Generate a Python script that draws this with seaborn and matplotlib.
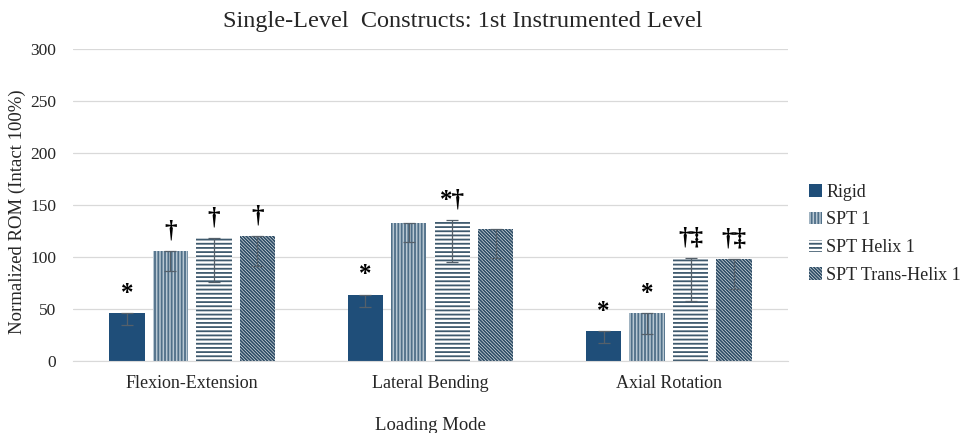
import numpy as np
import pandas as pd
import seaborn as sns
import matplotlib.pyplot as plt
from matplotlib.patches import Patch

# Chart data
modes = ["Flexion-Extension", "Lateral Bending", "Axial Rotation"]
constructs = ["Rigid", "SPT 1", "SPT Helix 1", "SPT Trans-Helix 1"]
rigid = [46, 64, 29]
spt1 = [106, 133, 46]
helix = [118, 136, 99]
trans_helix = [120, 127, 98]
# one-sided (minus) error bars
rigid_err = [11, 12, 12]
spt1_err = [19, 19, 20]
helix_err = [42, 41, 41]
trans_helix_err = [29, 28, 29]
# significance markers
rigid_sig = ["*", "*", "*"]
spt1_sig = ["†", "", "*"]
helix_sig = ["†", "*†", "†‡"]
trans_helix_sig = ["†", "", "†‡"]

values = [rigid, spt1, helix, trans_helix]
errors = [rigid_err, spt1_err, helix_err, trans_helix_err]
sigs = [rigid_sig, spt1_sig, helix_sig, trans_helix_sig]

df = pd.DataFrame({
    "mode": np.tile(modes, len(constructs)),
    "construct": np.repeat(constructs, len(modes)),
    "rom": np.concatenate(values),
})

sns.set_style("white")
plt.rcParams["font.family"] = ["Liberation Serif", "DejaVu Serif"]
plt.rcParams["hatch.linewidth"] = 1.3

fig = plt.figure(figsize=(9.61, 4.33), dpi=100)
ax = fig.add_axes([0.076, 0.166, 0.744, 0.721])

faces = ["#1f4e79", "#b9c8d3", "white", "white"]
edges = ["#1f4e79", "#4f6f88", "#3f5a6e", "#2e4d66"]
hatches = [None, "|||||", "----", "\\\\\\\\\\\\\\\\\\\\"]

sns.barplot(data=df, x="mode", y="rom", hue="construct", order=modes,
            hue_order=constructs, width=0.73, gap=0.19, errorbar=None,
            legend=False, ax=ax)

bars = ax.patches
for i, name in enumerate(constructs):
    for j in range(len(modes)):
        b = bars[i * len(modes) + j]
        b.set_facecolor(faces[i])
        b.set_edgecolor(edges[i])
        b.set_linewidth(0)
        if hatches[i]:
            b.set_hatch(hatches[i])
        cx = b.get_x() + b.get_width() / 2
        h = b.get_height()
        ax.errorbar(cx, h, yerr=[[errors[i][j]], [0]], fmt="none",
                    ecolor="#55606a", elinewidth=0.9, capsize=4, capthick=0.9)
        if sigs[i][j]:
            ax.annotate(sigs[i][j], (cx, h), xytext=(0, 6),
                        textcoords="offset points", ha="center", va="bottom",
                        fontsize=18, fontweight="bold", color="black")

ax.set_ylim(0, 300)
ax.set_xlim(-0.5, 2.5)
ax.set_yticks(range(0, 301, 50))
ax.grid(axis="y", color="#d9d9d9", linewidth=0.9)
ax.set_axisbelow(True)
for s in ["left", "right", "top"]:
    ax.spines[s].set_visible(False)
ax.spines["bottom"].set_color("#d9d9d9")
ax.tick_params(axis="y", length=0, labelsize=12.5, pad=12)
ax.tick_params(axis="x", length=0, labelsize=13, pad=10)

ax.set_title("Single-Level  Constructs: 1st Instrumented Level", fontsize=17.5,
             pad=16, x=0.545)
ax.set_ylabel("Normalized ROM (Intact 100%)", fontsize=13.5)
ax.yaxis.set_label_coords(-0.066, 0.48)
ax.set_xlabel("Loading Mode", fontsize=13.5)
ax.xaxis.set_label_coords(0.5, -0.178)

handles = [Patch(facecolor=faces[i], edgecolor=edges[i], hatch=hatches[i],
                 linewidth=0, label=constructs[i]) for i in range(4)]
fig.legend(handles=handles, loc="center left", bbox_to_anchor=(0.825, 0.46),
           frameon=False, fontsize=13, handlelength=0.7, handleheight=0.7,
           handletextpad=0.25, labelspacing=0.6)

fig.savefig("out.png", dpi=100)
